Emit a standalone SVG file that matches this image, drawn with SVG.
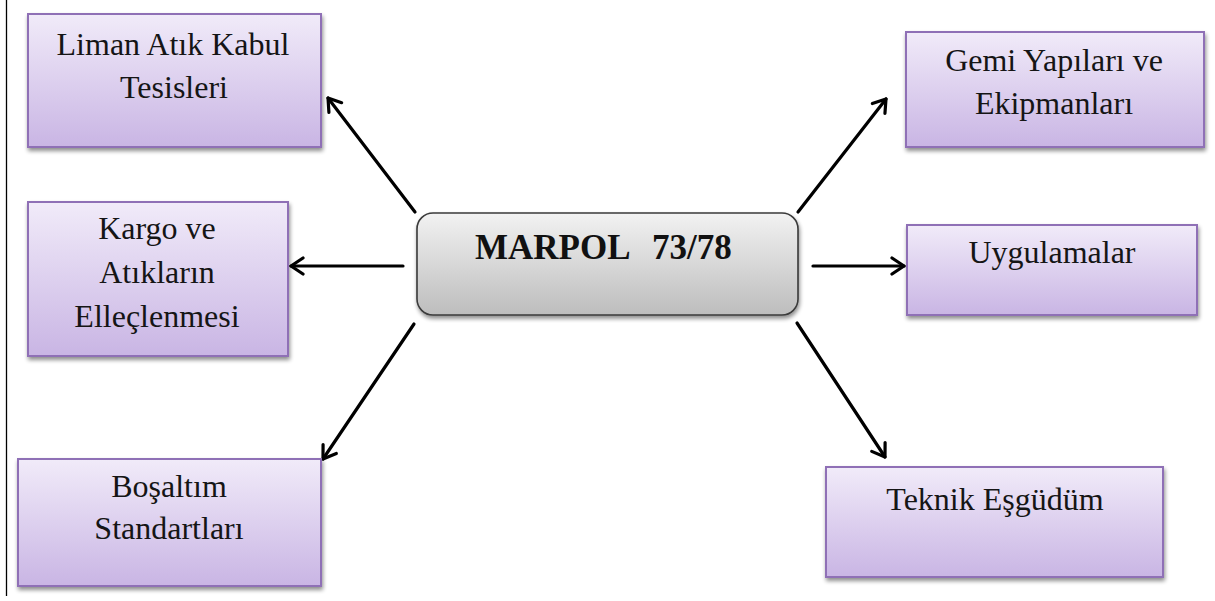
<svg xmlns="http://www.w3.org/2000/svg" width="1215" height="601" viewBox="0 0 1215 601">
  <defs>
    <linearGradient id="purpleFill" x1="0" y1="0" x2="0" y2="1">
      <stop offset="0" stop-color="#f1ebf9"/>
      <stop offset="1" stop-color="#c9b5e4"/>
    </linearGradient>
    <linearGradient id="greyFill" x1="0" y1="0" x2="0" y2="1">
      <stop offset="0" stop-color="#f2f2f2"/>
      <stop offset="1" stop-color="#bdbdbd"/>
    </linearGradient>
    <filter id="shadow" x="-10%" y="-10%" width="125%" height="130%">
      <feGaussianBlur in="SourceAlpha" stdDeviation="2"/>
      <feOffset dx="1" dy="3" result="off"/>
      <feComponentTransfer><feFuncA type="linear" slope="0.45"/></feComponentTransfer>
      <feMerge><feMergeNode/><feMergeNode in="SourceGraphic"/></feMerge>
    </filter>
    <marker id="chevron" viewBox="0 0 20 20" refX="17" refY="10" markerWidth="20" markerHeight="20" markerUnits="userSpaceOnUse" orient="auto">
      <path d="M5,2 L17,10 L5,18" fill="none" stroke="#000" stroke-width="3.2" stroke-linecap="round" stroke-linejoin="round"/>
    </marker>
  </defs>
  <style>
    .box { fill: url(#purpleFill); stroke: #8f70b6; stroke-width: 2; filter: url(#shadow); }
    .hub { fill: url(#greyFill); stroke: #3a3a3a; stroke-width: 1.6; filter: url(#shadow); }
    .label { font-family: "Liberation Serif", "Times New Roman", serif; font-size: 32px; fill: #151515; text-anchor: middle; }
    .hubLabel { font-family: "Liberation Serif", "Times New Roman", serif; font-size: 35px; font-weight: bold; fill: #111; }
    .arrow { stroke: #000; stroke-width: 3.2; fill: none; stroke-linecap: round; marker-end: url(#chevron); }
  </style>

  <!-- page margin rule -->
  <line x1="6.5" y1="0" x2="6.5" y2="596" stroke="#000" stroke-width="1.3"/>

  <g id="connectors">
    <line class="arrow" x1="415" y1="212" x2="328" y2="98"/>
    <line class="arrow" x1="403" y1="266" x2="291" y2="266"/>
    <line class="arrow" x1="414" y1="324" x2="323" y2="459"/>
    <line class="arrow" x1="798" y1="212" x2="886" y2="99"/>
    <line class="arrow" x1="813" y1="266" x2="904" y2="266"/>
    <line class="arrow" x1="797" y1="323" x2="885" y2="457"/>
  </g>

  <g id="hub">
    <rect class="hub" x="417" y="213" width="381" height="102" rx="16" ry="16"/>
    <text class="hubLabel" x="475" y="259">MARPOL<tspan x="652">73/78</tspan></text>
  </g>

  <g id="node-liman">
    <rect class="box" x="28" y="14" width="293" height="133"/>
    <text class="label" x="173" y="55">Liman Atık Kabul</text>
    <text class="label" x="174" y="98">Tesisleri</text>
  </g>

  <g id="node-kargo">
    <rect class="box" x="28" y="202" width="260" height="154"/>
    <text class="label" x="157" y="239">Kargo ve</text>
    <text class="label" x="157" y="283">Atıkların</text>
    <text class="label" x="157" y="327">Elleçlenmesi</text>
  </g>

  <g id="node-bosaltim">
    <rect class="box" x="18" y="459" width="303" height="127"/>
    <text class="label" x="169" y="497">Boşaltım</text>
    <text class="label" x="169" y="539">Standartları</text>
  </g>

  <g id="node-gemi">
    <rect class="box" x="906" y="32" width="298" height="115"/>
    <text class="label" x="1054" y="71">Gemi Yapıları ve</text>
    <text class="label" x="1054" y="114">Ekipmanları</text>
  </g>

  <g id="node-uygulamalar">
    <rect class="box" x="907" y="225" width="290" height="90"/>
    <text class="label" x="1052" y="263">Uygulamalar</text>
  </g>

  <g id="node-teknik">
    <rect class="box" x="826" y="467" width="337" height="110"/>
    <text class="label" x="995" y="510">Teknik Eşgüdüm</text>
  </g>
</svg>
